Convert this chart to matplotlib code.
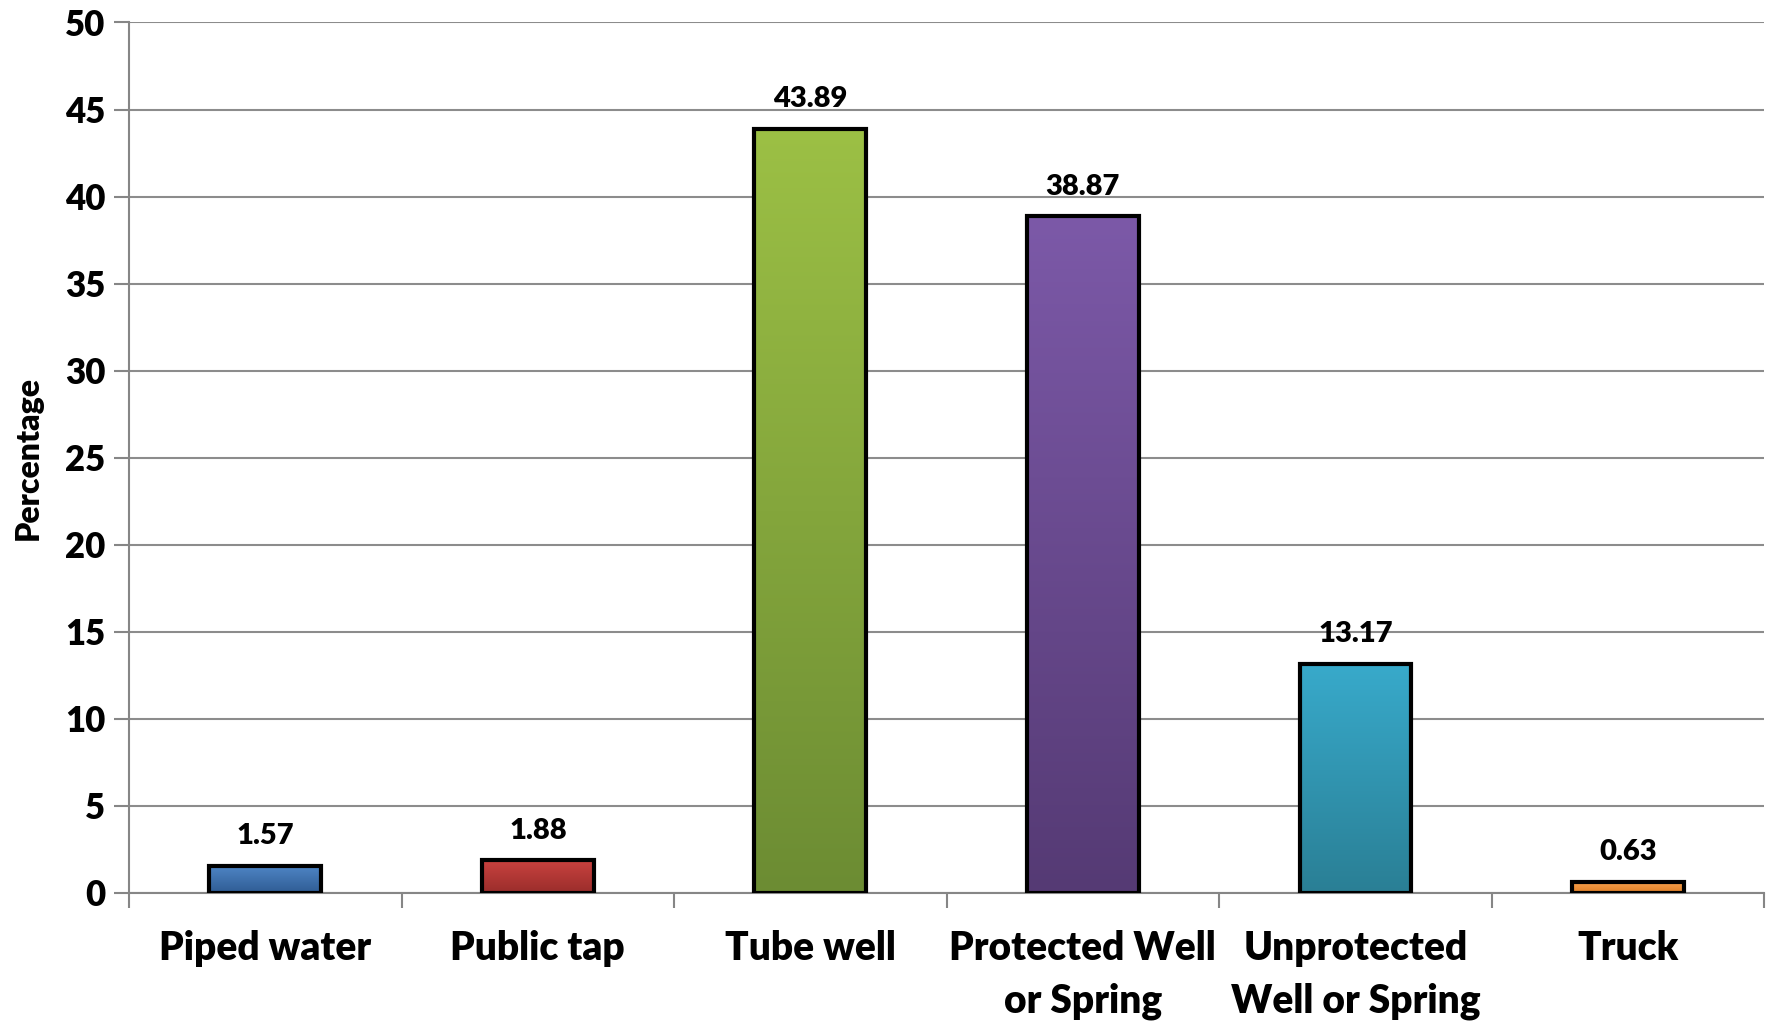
import numpy as np
import matplotlib
matplotlib.use('Agg')
import matplotlib.pyplot as plt
from matplotlib.colors import LinearSegmentedColormap

sources = ['Piped water', 'Public tap', 'Tube well', 'Protected Well\nor Spring',
           'Unprotected\nWell or Spring', 'Truck']
percent = [1.57, 1.88, 43.89, 38.87, 13.17, 0.63]
labels = ['1.57', '1.88', '43.89', '38.87', '13.17', '0.63']
# (top colour, bottom colour) for each bar's gradient
top_colors = ['#4F86C6', '#C9423F', '#9CC045', '#7C59A8', '#38AACB', '#F7A04E']
bottom_colors = ['#2F5C94', '#9A2D2B', '#6C8C33', '#553A74', '#2A7F95', '#E07F25']
yticks = [0, 5, 10, 15, 20, 25, 30, 35, 40, 45, 50]

plt.rcParams['font.family'] = ['Lato', 'DejaVu Sans']
W = 'heavy'

fig = plt.figure(figsize=(17.73, 10.21), dpi=100)
ax = fig.add_axes([0.0728, 0.1254, 0.9222, 0.8526])

x = np.arange(len(sources))
bars = ax.bar(x, percent, width=0.41, color='none', edgecolor='black',
              linewidth=3, zorder=4)

grad = np.linspace(0, 1, 256).reshape(-1, 1)
for b, c1, c2 in zip(bars, top_colors, bottom_colors):
    cmap = LinearSegmentedColormap.from_list('g', [c2, c1])
    x0 = b.get_x()
    w = b.get_width()
    h = b.get_height()
    im = ax.imshow(grad, cmap=cmap, aspect='auto', origin='lower',
                   extent=[x0, x0 + w, 0, h], zorder=3)
    im.set_clip_path(b)

for xi, v, s in zip(x, percent, labels):
    ax.annotate(s, (xi, v), xytext=(0, 12), textcoords='offset points',
                ha='center', va='bottom', fontsize=21, fontweight=W)

ax.set_xlim(-0.5, 5.5)
ax.set_ylim(0, 50)
ax.set_yticks(yticks)
ax.set_yticklabels([str(t) for t in yticks], fontsize=25, fontweight=W)
ax.set_xticks(x)
ax.set_xticklabels(sources, fontsize=28, fontweight=W, linespacing=1.5)
ax.set_xticks(np.arange(-0.5, 6, 1), minor=True)
ax.tick_params(axis='x', which='major', length=0, pad=27)
ax.tick_params(axis='x', which='minor', length=11, width=1.5, color='#868686', direction='out')
ax.tick_params(axis='y', length=11, width=1.5, color='#868686', pad=6)
ax.set_ylabel('Percentage', fontsize=23, fontweight=W, labelpad=16)

ax.grid(axis='y', color='#8C8C8C', linewidth=1.5, zorder=0)
ax.set_axisbelow(True)
for side in ['top', 'right']:
    ax.spines[side].set_visible(False)
for side in ['left', 'bottom']:
    ax.spines[side].set_color('#868686')
    ax.spines[side].set_linewidth(1.5)

fig.savefig('out.png', dpi=100)
